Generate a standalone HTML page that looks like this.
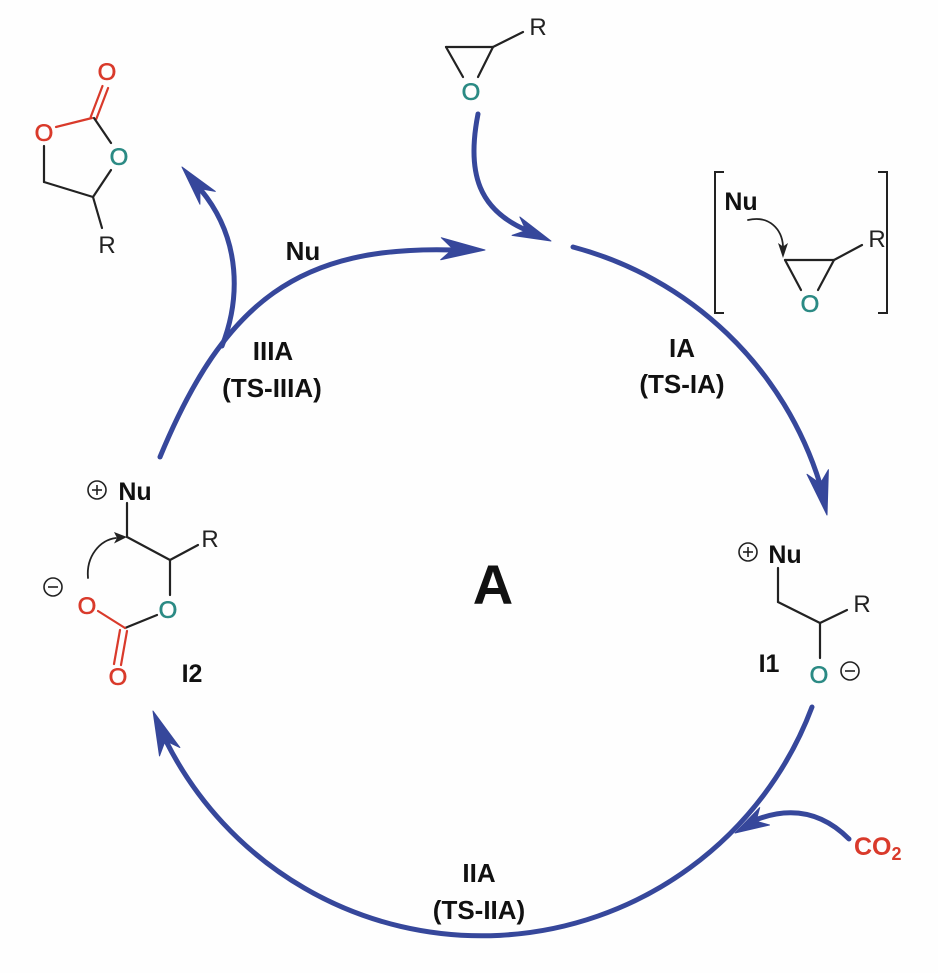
<!DOCTYPE html>
<html>
<head>
<meta charset="utf-8">
<style>
  html,body{margin:0;padding:0;background:#fefefe;}
  svg{display:block;}
  text{font-family:"Liberation Sans", Arial, sans-serif;}
</style>
</head>
<body>
<svg width="938" height="973" viewBox="0 0 938 973" xmlns="http://www.w3.org/2000/svg">
  <rect width="938" height="973" fill="#fefefe"/>

  <!-- ===== Blue cycle arcs ===== -->
  <g fill="none" stroke="#36479b" stroke-width="5" stroke-linecap="round">
    <!-- IA arc (right) -->
    <path d="M 573 247 A 353 353 0 0 1 820 484"/>
    <!-- IIA arc (bottom) -->
    <path d="M 812 707 A 353 353 0 0 1 166 741"/>
    <!-- IIIA arc (left) + Nu arrow -->
    <path d="M 160 457 C 225 300, 300 245, 455 250"/>
    <!-- branch to cyclic carbonate -->
    <path d="M 222 346 C 240 300, 242 240, 201 190"/>
    <!-- epoxide entry arrow -->
    <path d="M 478 114 C 466 175, 480 210, 526 230"/>
    <!-- CO2 arrow -->
    <path d="M 849 839 Q 810 800 758 819"/>
  </g>
  <g fill="#36479b" stroke="#36479b" stroke-width="1" stroke-linejoin="round">
    <polygon points="827,515 807,474.3 820.2,483.7 828.4,469.7"/>
    <polygon points="153,711 179.9,747.5 165.2,740.6 159.5,755.9"/>
    <polygon points="485,250 441.3,237.7 453,249 440.7,259.7"/>
    <polygon points="182,167 215.3,191.4 199.9,188.6 199.9,204.2"/>
    <polygon points="551,241 512.1,235.4 526.2,230.5 519.9,217"/>
    <polygon points="735,833 759.7,807.6 755.9,821.2 769.5,825"/>
  </g>

  <!-- ===== Cyclic carbonate (top-left) ===== -->
  <g stroke-width="2.2" stroke-linecap="round" fill="none">
    <line x1="90.7" y1="117" x2="102.5" y2="86" stroke="#d93a2b"/>
    <line x1="96.3" y1="119" x2="108.1" y2="88" stroke="#d93a2b"/>
    <line x1="92" y1="118" x2="56" y2="127" stroke="#d93a2b"/>
    <line x1="94" y1="118" x2="111" y2="143" stroke="#222"/>
    <line x1="111" y1="170" x2="93" y2="197" stroke="#222"/>
    <line x1="44" y1="146" x2="44" y2="182" stroke="#222"/>
    <line x1="44" y1="182" x2="93" y2="197" stroke="#222"/>
    <line x1="93" y1="197" x2="102" y2="228" stroke="#222"/>
  </g>
  <g font-size="24" text-anchor="middle" stroke-width="0.6">
    <text x="107" y="80" fill="#d93a2b" stroke="#d93a2b">O</text>
    <text x="44" y="141" fill="#d93a2b" stroke="#d93a2b">O</text>
    <text x="119" y="165" fill="#2b8a84" stroke="#2b8a84">O</text>
    <text x="107" y="253" fill="#222">R</text>
  </g>

  <!-- ===== Top epoxide ===== -->
  <g stroke="#222" stroke-width="2.2" stroke-linecap="round" fill="none">
    <line x1="446" y1="47" x2="493" y2="47"/>
    <line x1="446" y1="47" x2="463" y2="77"/>
    <line x1="493" y1="47" x2="478" y2="77"/>
    <line x1="493" y1="47" x2="523" y2="32"/>
  </g>
  <g font-size="24" text-anchor="middle" stroke-width="0.6">
    <text x="471" y="100" fill="#2b8a84" stroke="#2b8a84">O</text>
    <text x="538" y="35" fill="#222">R</text>
  </g>

  <!-- ===== Bracketed TS ===== -->
  <g stroke="#222" stroke-width="2" fill="none">
    <path d="M 724 172 H 715 V 313 H 724"/>
    <path d="M 878 172 H 887 V 313 H 878"/>
  </g>
  <g stroke="#222" stroke-width="2.2" stroke-linecap="round" fill="none">
    <line x1="785" y1="260" x2="834" y2="260"/>
    <line x1="785" y1="260" x2="801" y2="290"/>
    <line x1="834" y1="260" x2="818" y2="290"/>
    <line x1="834" y1="260" x2="862" y2="245"/>
    <path d="M 748 220 C 770 215, 782 230, 783 246" stroke-width="1.8"/>
  </g>
  <polygon points="783,258 778,243 783,246.5 788,243" fill="#222"/>
  <text x="741" y="210" font-size="25" font-weight="bold" text-anchor="middle" fill="#111">Nu</text>
  <g font-size="24" text-anchor="middle" stroke-width="0.6">
    <text x="810" y="312" fill="#2b8a84" stroke="#2b8a84">O</text>
    <text x="877" y="247" fill="#222">R</text>
  </g>

  <!-- ===== I1 (right) ===== -->
  <g stroke="#222" stroke-width="2.2" stroke-linecap="round" fill="none">
    <line x1="778" y1="568" x2="778" y2="602"/>
    <line x1="778" y1="602" x2="820" y2="623"/>
    <line x1="820" y1="623" x2="847" y2="610"/>
    <line x1="820" y1="623" x2="820" y2="658"/>
  </g>
  <g stroke="#222" stroke-width="1.6" fill="none">
    <circle cx="748" cy="552" r="9"/>
    <line x1="743" y1="552" x2="753" y2="552"/>
    <line x1="748" y1="547" x2="748" y2="557"/>
    <circle cx="850" cy="671" r="9"/>
    <line x1="845" y1="671" x2="855" y2="671"/>
  </g>
  <text x="785" y="563" font-size="25" font-weight="bold" text-anchor="middle" fill="#111">Nu</text>
  <g font-size="24" text-anchor="middle" stroke-width="0.6">
    <text x="862" y="612" fill="#222">R</text>
    <text x="819" y="683" fill="#2b8a84" stroke="#2b8a84">O</text>
  </g>
  <text x="769" y="672" font-size="25" font-weight="bold" text-anchor="middle" fill="#111">I1</text>

  <!-- ===== I2 (left) ===== -->
  <g stroke-width="2.2" stroke-linecap="round" fill="none">
    <line x1="127" y1="503" x2="127" y2="537" stroke="#222"/>
    <line x1="127" y1="537" x2="170" y2="560" stroke="#222"/>
    <line x1="170" y1="560" x2="198" y2="545" stroke="#222"/>
    <line x1="170" y1="560" x2="170" y2="595" stroke="#222"/>
    <line x1="157" y1="615" x2="125" y2="628" stroke="#222"/>
    <line x1="125" y1="628" x2="98" y2="611" stroke="#d93a2b"/>
    <line x1="120" y1="630" x2="114" y2="664" stroke="#d93a2b"/>
    <line x1="127" y1="631" x2="121" y2="665" stroke="#d93a2b"/>
    <path d="M 88 578 C 86 556, 100 540, 116 538" stroke="#222" stroke-width="1.8"/>
  </g>
  <polygon points="127,537 114,532 117,538 114,543.5" fill="#222"/>
  <g stroke="#222" stroke-width="1.6" fill="none">
    <circle cx="97" cy="490" r="9"/>
    <line x1="92" y1="490" x2="102" y2="490"/>
    <line x1="97" y1="485" x2="97" y2="495"/>
    <circle cx="53" cy="587" r="9"/>
    <line x1="48" y1="587" x2="58" y2="587"/>
  </g>
  <text x="135" y="500" font-size="25" font-weight="bold" text-anchor="middle" fill="#111">Nu</text>
  <g font-size="24" text-anchor="middle" stroke-width="0.6">
    <text x="210" y="547" fill="#222">R</text>
    <text x="168" y="618" fill="#2b8a84" stroke="#2b8a84">O</text>
    <text x="87" y="614" fill="#d93a2b" stroke="#d93a2b">O</text>
    <text x="118" y="685" fill="#d93a2b" stroke="#d93a2b">O</text>
  </g>
  <text x="192" y="682" font-size="25" font-weight="bold" text-anchor="middle" fill="#111">I2</text>

  <!-- ===== Cycle labels ===== -->
  <g font-size="26" font-weight="bold" text-anchor="middle" fill="#111">
    <text x="303" y="260">Nu</text>
    <text x="273" y="360">IIIA</text>
    <text x="272" y="397">(TS-IIIA)</text>
    <text x="682" y="357">IA</text>
    <text x="682" y="393">(TS-IA)</text>
    <text x="479" y="882">IIA</text>
    <text x="479" y="919">(TS-IIA)</text>
  </g>
  <text x="493" y="604" font-size="56" font-weight="bold" text-anchor="middle" fill="#111">A</text>

  <!-- CO2 -->
  <text x="854" y="855" font-size="25" font-weight="bold" fill="#d93a2b">CO<tspan font-size="18" dy="5">2</tspan></text>
</svg>
</body>
</html>
